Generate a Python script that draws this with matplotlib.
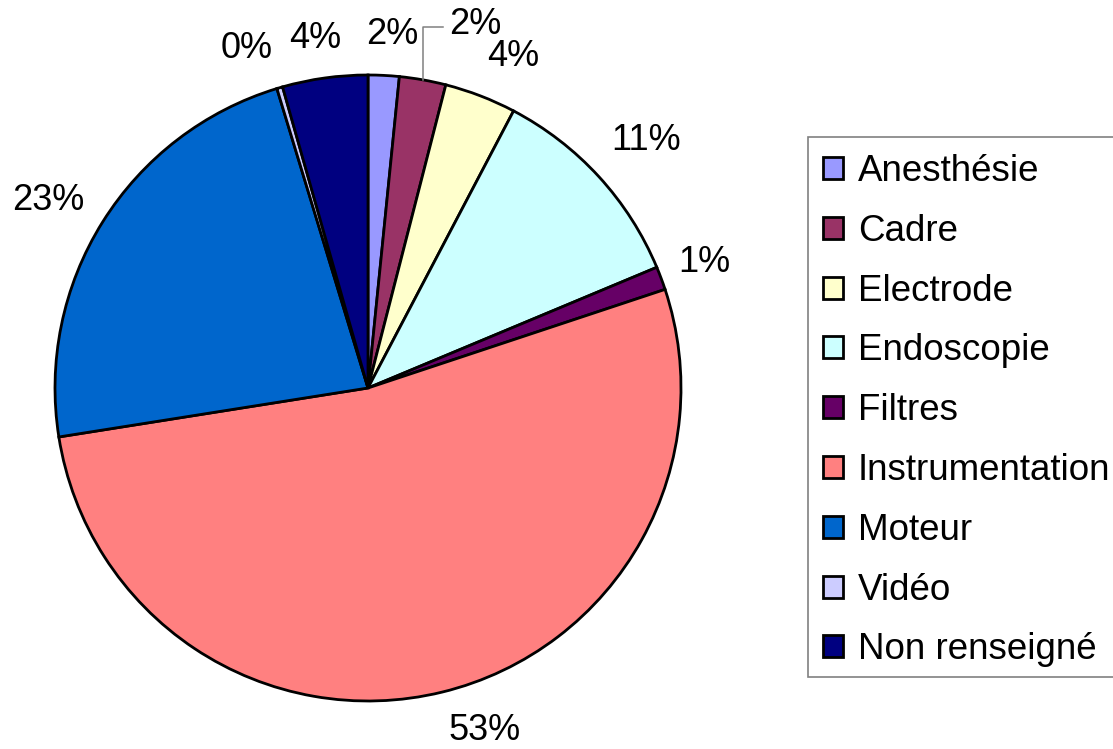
import numpy as np
import matplotlib
matplotlib.use("Agg")
import matplotlib.pyplot as plt
from matplotlib.patches import Rectangle

plt.rcParams['font.family'] = ['Liberation Sans', 'DejaVu Sans']

categories = ['Anesthésie', 'Cadre', 'Electrode', 'Endoscopie', 'Filtres',
              'Instrumentation', 'Moteur', 'Vidéo', 'Non renseigné']
shares = [1.6, 2.4, 3.7, 11.0, 1.2, 52.6, 22.8, 0.3, 4.4]
colors = ['#9999FF', '#993366', '#FFFFCC', '#CCFFFF', '#660066',
          '#FF8080', '#0066CC', '#CCCCFF', '#000080']

# where the percent labels sit (pixel centres, as placed in the original)
label_px = [(392, 35), (475, 24), (513, 56), (646, 141), (704, 263),
            (485, 731), (48, 200), (247, 49), (315, 39)]

W, H = 1113, 749
CX, CY, R = 368, 388, 313
fig = plt.figure(figsize=(W / 100, H / 100), dpi=100)
ax = fig.add_axes([(CX - R) / W, (H - CY - R) / H, 2 * R / W, 2 * R / H])

wedges, texts, autotexts = ax.pie(
    shares, colors=colors, startangle=90, counterclock=False,
    autopct='%.0f%%', pctdistance=1.15,
    wedgeprops=dict(edgecolor='black', linewidth=2),
    textprops=dict(fontsize=26, color='black'))
ax.set_xlim(-1, 1)
ax.set_ylim(-1, 1)
ax.set_aspect('equal')

for t, (px, py) in zip(autotexts, label_px):
    t.set_position(((px - CX) / R, (CY - py) / R))
    t.set_ha('center')
    t.set_va('center')
    t.set_clip_on(False)

# leader line for the Cadre label
w = wedges[1]
mid = np.deg2rad((w.theta1 + w.theta2) / 2)
x0, y0 = np.cos(mid), np.sin(mid)
ty = (CY - 27) / R
ax.plot([x0, x0, (443 - CX) / R], [y0, ty, ty], color='#808080', lw=1.1,
        clip_on=False)

# legend box runs past the right edge in the original
fig.patches.append(Rectangle((808 / W, 1 - 677 / H), 320 / W, 540 / H,
                             transform=fig.transFigure, facecolor='white',
                             edgecolor='#808080', linewidth=1.2, zorder=-1))

leg = ax.legend(wedges, categories, loc='upper left',
                bbox_to_anchor=(823 / W, 1 - 154 / H),
                bbox_transform=fig.transFigure,
                fontsize=26.5, frameon=False,
                handlelength=0.54, handleheight=0.54, handletextpad=0.41,
                labelspacing=0.674, borderpad=0, borderaxespad=0)
for h in leg.legend_handles:
    h.set_linewidth(2)

fig.savefig('out.png', dpi=100, facecolor='white')
